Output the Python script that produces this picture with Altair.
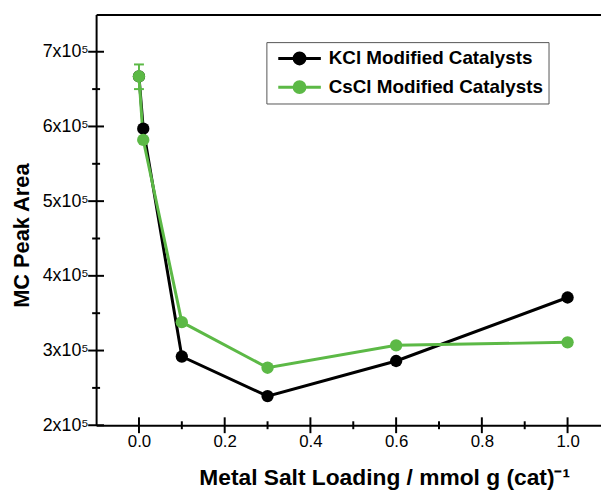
import altair as alt
import pandas as pd

# ---- data ----
loading = [0.0, 0.01, 0.1, 0.3, 0.6, 1.0]
kcl_area = [667000, 597000, 292000, 239000, 286000, 371000]
cscl_area = [667000, 582000, 338000, 277000, 307000, 311000]
series_names = ["KCl Modified Catalysts", "CsCl Modified Catalysts"]
series_colors = ["#000000", "#5cb946"]

err_x = [0.0]
err_low = [650000]
err_high = [683000]

x_domain = [-0.1, 1.078]
y_domain = [200000, 750000]
x_major = [0.0, 0.2, 0.4, 0.6, 0.8, 1.0]
x_minor = [0.1, 0.3, 0.5, 0.7, 0.9]
y_major = [200000, 300000, 400000, 500000, 600000, 700000]
y_minor = [250000, 350000, 450000, 550000, 650000]

W, H = 510, 415
FONT = "Liberation Sans"

df_k = pd.DataFrame({"x": loading, "y": kcl_area, "series": series_names[0]})
df_c = pd.DataFrame({"x": loading, "y": cscl_area, "series": series_names[1]})
df_err = pd.DataFrame({"x": err_x, "lo": err_low, "hi": err_high})
df_caps = pd.DataFrame({"x": err_x * 2, "y": err_low + err_high})

xs = alt.Scale(domain=x_domain, nice=False, zero=False)
ys = alt.Scale(domain=y_domain, nice=False, zero=False)
cs = alt.Scale(domain=series_names, range=series_colors)

legend = alt.Legend(
    title=None, orient="none", legendX=172, legendY=28,
    strokeColor="#555555", padding=5, fillColor="white",
    labelFont=FONT, labelFontSize=19, labelFontWeight="bold", labelColor="black",
    labelLimit=400, labelOffset=18, rowPadding=6, symbolOffset=17,
    symbolType="M-2.15,0L2.15,0M-0.55,0A0.55,0.55,0,1,1,0.55,0A0.55,0.55,0,1,1,-0.55,0Z",
    symbolSize=400, symbolStrokeWidth=3, symbolOpacity=1,
    symbolFillColor={"expr": "scale('color', datum.value)"},
    symbolStrokeColor={"expr": "scale('color', datum.value)"},
)

color_enc = lambda: alt.Color("series:N", scale=cs, legend=legend)

main_x = alt.Axis(
    orient="bottom", values=x_major, format=".1f", ticks=False,
    domainColor="black", domainWidth=2,
    labelFont=FONT, labelFontSize=17, labelColor="black", labelPadding=8,
    labelFlush=False, grid=False,
    title="Metal Salt Loading / mmol g (cat)\u207b\u00b9",
    titleFont=FONT, titleFontSize=23, titleFontWeight="bold", titleColor="black",
    titleX=291, titleY=60, titleBaseline="alphabetic", titleAnchor="middle",
)
main_y = alt.Axis(
    orient="left", values=y_major, ticks=False,
    labelExpr="format(datum.value/100000, 'd') + 'x10\u2075'",
    domainColor="black", domainWidth=2,
    labelFont=FONT, labelFontSize=18, labelColor="black", labelPadding=8,
    labelFlush=False, grid=False,
    title="MC Peak Area", titleFont=FONT, titleFontSize=22, titleFontWeight="bold",
    titleColor="black", titleX=-63, titleY=223, titleAngle=-90,
    titleBaseline="bottom", titleAnchor="middle",
)
top_x = alt.Axis(
    orient="top", offset=0, labels=False, ticks=False, grid=False, title=None,
    domainColor="black", domainWidth=2,
)

# axis ticks, placed through the scales at the axis edges
tick_len = ["major"] * 6 + ["minor"] * 5
df_xt = pd.DataFrame({"tx": x_major + x_minor,
                      "ty": [y_domain[0]] * 11,
                      "kind": tick_len})
df_yt = pd.DataFrame({"tx": [x_domain[0]] * 11,
                      "ty": y_major + y_minor,
                      "kind": tick_len})
size_scale = alt.Scale(domain=["major", "minor"], range=[16, 8])

xticks = alt.Chart(df_xt).mark_tick(
    orient="vertical", thickness=2, color="#000000", opacity=1,
).encode(
    x=alt.X("tx:Q", scale=xs, axis=None),
    y=alt.Y("ty:Q", scale=ys, axis=None),
    size=alt.Size("kind:N", scale=size_scale, legend=None),
)
yticks = alt.Chart(df_yt).mark_tick(
    orient="horizontal", thickness=2, color="#000000", opacity=1,
).encode(
    x=alt.X("tx:Q", scale=xs, axis=None),
    y=alt.Y("ty:Q", scale=ys, axis=None),
    size=alt.Size("kind:N", scale=size_scale, legend=None),
)

k_line = alt.Chart(df_k).mark_line(strokeWidth=3).encode(
    x=alt.X("x:Q", scale=xs, axis=main_x),
    y=alt.Y("y:Q", scale=ys, axis=main_y),
    color=color_enc(),
)
k_pts = alt.Chart(df_k).mark_point(filled=True, size=155, opacity=1).encode(
    x=alt.X("x:Q", scale=xs, axis=None),
    y=alt.Y("y:Q", scale=ys, axis=None),
    color=color_enc(),
)
c_line = alt.Chart(df_c).mark_line(strokeWidth=3).encode(
    x=alt.X("x:Q", scale=xs, axis=top_x),
    y=alt.Y("y:Q", scale=ys, axis=None),
    color=color_enc(),
)
c_pts = alt.Chart(df_c).mark_point(filled=True, size=155, opacity=1).encode(
    x=alt.X("x:Q", scale=xs, axis=None),
    y=alt.Y("y:Q", scale=ys, axis=None),
    color=color_enc(),
)
err_rule = alt.Chart(df_err).mark_rule(color=series_colors[1], strokeWidth=2).encode(
    x=alt.X("x:Q", scale=xs, axis=None),
    y=alt.Y("lo:Q", scale=ys, axis=None),
    y2="hi:Q",
)
err_caps = alt.Chart(df_caps).mark_tick(
    color=series_colors[1], thickness=2, size=10, orient="horizontal", opacity=1
).encode(
    x=alt.X("x:Q", scale=xs, axis=None),
    y=alt.Y("y:Q", scale=ys, axis=None),
)

chart = alt.layer(
    k_line, c_line, k_pts, err_rule, err_caps, c_pts, xticks, yticks,
).resolve_axis(
    x="independent", y="independent"
).properties(
    width=W, height=H,
    autosize=alt.AutoSizeParams(type="none"),
    padding={"left": 89, "top": 4, "right": 0, "bottom": 68},
    background="white",
).configure_view(stroke=None)

chart.save("out.html", embed_options={"renderer": "svg", "actions": False})
